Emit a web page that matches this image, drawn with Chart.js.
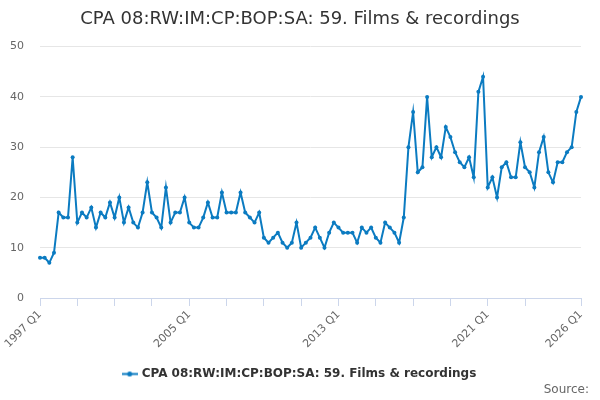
<!DOCTYPE html>
<html>
<head>
<meta charset="utf-8">
<script src="https://cdn.jsdelivr.net/npm/chart.js@4.4.1/dist/chart.umd.min.js"></script>
<style>
html,body{margin:0;padding:0;background:#fff;}
#wrap{width:600px;height:400px;position:relative;}
</style>
</head>
<body>
<div id="wrap"><canvas id="c" width="600" height="400"></canvas></div>
<script>
// Quarterly periods 1997 Q1 .. 2026 Q1
const years = [1997,1998,1999,2000,2001,2002,2003,2004,2005,2006,2007,2008,2009,2010,2011,2012,2013,2014,2015,2016,2017,2018,2019,2020,2021,2022,2023,2024,2025,2026];
const quarters = ["Q1","Q2","Q3","Q4"];
const labels = [];
years.forEach(y => quarters.forEach(q => { if (!(y === 2026 && q !== "Q1")) labels.push(y + " " + q); }));

const values = [
  8,8,7,9,
  17,16,16,28,
  15,17,16,18,
  14,17,16,19,
  16,20,15,18,
  15,14,17,23,
  17,16,14,22,
  15,17,17,20,
  15,14,14,16,
  19,16,16,21,
  17,17,17,21,
  17,16,15,17,
  12,11,12,13,
  11,10,11,15,
  10,11,12,14,
  12,10,13,15,
  14,13,13,13,
  11,14,13,14,
  12,11,15,14,
  13,11,16,30,
  37,25,26,40,
  28,30,28,34,
  32,29,27,26,
  28,24,41,44,
  22,24,20,26,
  27,24,24,31,
  26,25,22,29,
  32,25,23,27,
  27,29,30,37,
  40
];

const tickLabels = ["1997 Q1","2005 Q1","2013 Q1","2021 Q1","2026 Q1"];
const tickMarks = ["1997 Q1","1999 Q1","2001 Q1","2003 Q1","2005 Q1","2007 Q1","2009 Q1","2011 Q1","2013 Q1","2015 Q1","2017 Q1","2019 Q1","2021 Q1","2023 Q1","2026 Q1"];
const yTicks = [0,10,20,30,40,50];

const seriesName = "CPA 08:RW:IM:CP:BOP:SA: 59. Films & recordings";
const titleText = "CPA 08:RW:IM:CP:BOP:SA: 59. Films & recordings";
const sourceText = "Source:";
const lineColor = "#0b7bc1";
const FONT = "'DejaVu Sans', sans-serif";

// legend symbol: line with a dot
const sym = document.createElement('canvas');
sym.width = 16; sym.height = 9;
(function(){
  const g = sym.getContext('2d');
  g.strokeStyle = lineColor; g.lineWidth = 2;
  g.beginPath(); g.moveTo(0,4.5); g.lineTo(16,4.5); g.stroke();
  g.fillStyle = lineColor;
  g.beginPath(); g.arc(8,4.5,2.5,0,Math.PI*2); g.fill();
})();

const sourcePlugin = {
  id: 'sourceText',
  afterDraw(chart) {
    const ctx = chart.ctx;
    ctx.save();
    ctx.font = "12px " + FONT;
    ctx.fillStyle = "#666666";
    ctx.textAlign = "right";
    ctx.textBaseline = "middle";
    ctx.fillText(sourceText, 589, 390);
    ctx.restore();
  }
};

new Chart(document.getElementById('c'), {
  type: 'line',
  data: {
    labels: labels,
    datasets: [{
      label: seriesName,
      data: values,
      borderColor: lineColor,
      backgroundColor: lineColor,
      pointBackgroundColor: lineColor,
      pointBorderColor: lineColor,
      borderWidth: 2,
      pointRadius: 2,
      pointBorderWidth: 0,
      tension: 0,
      fill: false
    }]
  },
  options: {
    responsive: false,
    animation: false,
    devicePixelRatio: 1,
    layout: { padding: { left: 0, right: 0, top: 0, bottom: 10 } },
    plugins: {
      title: {
        display: true,
        text: titleText,
        color: "#333333",
        font: { family: FONT, size: 18, weight: 'normal' },
        padding: { top: 9, bottom: 16 }
      },
      legend: {
        display: true,
        position: 'bottom',
        labels: {
          color: "#333333",
          font: { family: FONT, size: 12, weight: 'bold' },
          usePointStyle: true,
          pointStyle: sym,
          padding: 10
        }
      },
      tooltip: { enabled: false }
    },
    scales: {
      x: {
        type: 'category',
        offset: false,
        grid: { display: true, drawOnChartArea: false, drawTicks: true, tickLength: 8, color: "#ccd6eb" },
        border: { display: true, color: "#ccd6eb", width: 1 },
        afterBuildTicks(scale) {
          scale.ticks = tickMarks.map(l => ({ value: labels.indexOf(l) }));
        },
        afterFit(scale) { scale.height = 60; scale.paddingRight = 19; scale.paddingLeft = 0; },
        ticks: {
          autoSkip: false,
          minRotation: 45,
          maxRotation: 45,
          color: "#666666",
          font: { family: FONT, size: 11 },
          padding: 2,
          callback(value) {
            const l = labels[value];
            return tickLabels.includes(l) ? l : '';
          }
        }
      },
      y: {
        min: 0,
        max: 50,
        afterBuildTicks(scale) {
          scale.ticks = yTicks.map(v => ({ value: v }));
        },
        afterFit(scale) { scale.width = 40; },
        grid: { color: "#e6e6e6", drawTicks: false },
        border: { display: false },
        ticks: {
          color: "#666666",
          font: { family: FONT, size: 11 },
          padding: 16
        }
      }
    }
  },
  plugins: [sourcePlugin]
});
</script>
</body>
</html>
